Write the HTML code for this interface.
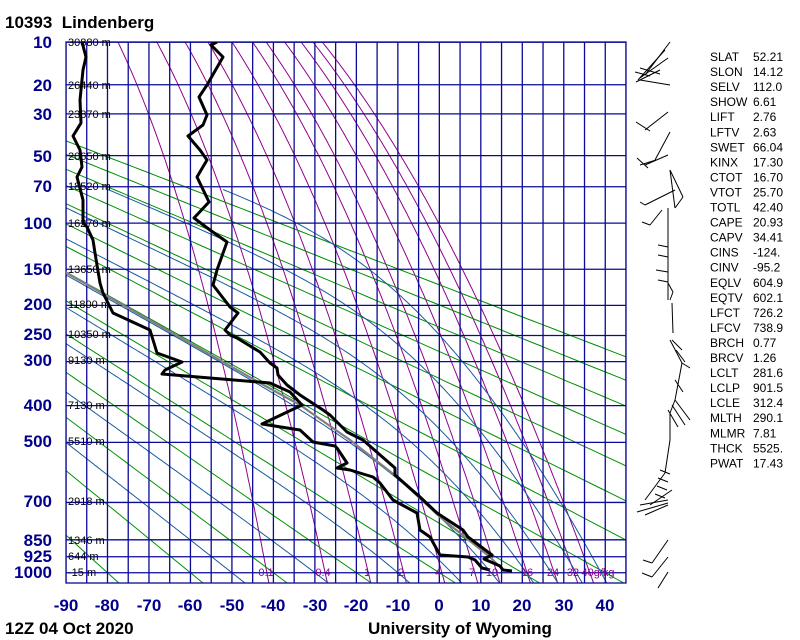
<!DOCTYPE html>
<html><head><meta charset="utf-8"><style>
html,body{margin:0;padding:0;background:#fff;width:800px;height:640px;overflow:hidden}
svg{display:block}
text{font-family:"Liberation Sans",sans-serif}
.pl{font-weight:bold;font-size:17px;fill:#00008b;text-anchor:end}
.xl{font-weight:bold;font-size:17px;fill:#00008b;text-anchor:middle}
.hl{font-size:11px;fill:#000}
.st{font-size:12px;fill:#000}
.mr{font-size:11px;fill:#900090;text-anchor:middle}
</style></head><body>
<svg id="s" width="800" height="640" xmlns="http://www.w3.org/2000/svg">
<defs><clipPath id="c"><rect x="66" y="42" width="560" height="541"/></clipPath></defs>
<g id="grid" clip-path="url(#c)"></g>
<rect x="66" y="42" width="560" height="541" fill="none" stroke="#0a0a96" stroke-width="1.3"/>
<g id="prof" clip-path="url(#c)"></g>
<text x="5" y="28" style="font-weight:bold;font-size:17px;white-space:pre">10393  Lindenberg</text>
<text x="5" y="634" style="font-weight:bold;font-size:17px">12Z 04 Oct 2020</text>
<text x="368" y="634" style="font-weight:bold;font-size:17px">University of Wyoming</text>
<g class="pl">
<text x="52" y="48">10</text><text x="52" y="91">20</text><text x="52" y="120">30</text><text x="52" y="162">50</text><text x="52" y="192">70</text><text x="52" y="229">100</text><text x="52" y="275">150</text><text x="52" y="310">200</text><text x="52" y="340">250</text><text x="52" y="366">300</text><text x="52" y="411">400</text><text x="52" y="447">500</text><text x="52" y="507">700</text><text x="52" y="546">850</text><text x="52" y="562">925</text><text x="52" y="578">1000</text>
</g>
<g class="xl">
<text x="66" y="611">-90</text><text x="107" y="611">-80</text><text x="149" y="611">-70</text><text x="190" y="611">-60</text><text x="232" y="611">-50</text><text x="273" y="611">-40</text><text x="315" y="611">-30</text><text x="356" y="611">-20</text><text x="398" y="611">-10</text><text x="439" y="611">0</text><text x="481" y="611">10</text><text x="522" y="611">20</text><text x="564" y="611">30</text><text x="605" y="611">40</text>
</g>
<g class="hl">
<text x="68" y="46">30880 m</text><text x="68" y="89">26440 m</text><text x="68" y="118">23870 m</text><text x="68" y="160">20650 m</text><text x="68" y="190">18520 m</text><text x="68" y="227">16270 m</text><text x="68" y="273">13650 m</text><text x="68" y="308">11800 m</text><text x="68" y="338">10350 m</text><text x="68" y="364">9130 m</text><text x="68" y="409">7130 m</text><text x="68" y="445">5510 m</text><text x="68" y="505">2918 m</text><text x="68" y="544">1346 m</text><text x="68" y="560">644 m</text><text x="68" y="576">-15 m</text>
</g>
<g class="mr">
<text x="266" y="576">0.1</text><text x="323" y="576">0.4</text><text x="367" y="576">1</text><text x="401" y="576">2</text><text x="438" y="576">4</text><text x="472" y="576">7</text><text x="492" y="576">10</text><text x="527" y="576">16</text><text x="553" y="576">24</text><text x="573" y="576">32</text><text x="598" y="576">40g/kg</text>
</g>
<g class="st" id="stats"></g>
<g id="wind" stroke="#000" stroke-width="1" fill="none"></g>
</svg>
<script>
var NS="http://www.w3.org/2000/svg";
function X(T){return 66+(T+90)*560/135;}
function Y(p){return -152+100.5*Math.pow(p,0.286);}
function el(par,tag,at){var e=document.createElementNS(NS,tag);for(var k in at)e.setAttribute(k,at[k]);par.appendChild(e);return e;}
var g=document.getElementById('grid');
function poly(par,pts,col,w){el(par,'polyline',{points:pts.map(function(q){return q[0].toFixed(1)+','+q[1].toFixed(1)}).join(' '),fill:'none',stroke:col,'stroke-width':w,'stroke-linejoin':'round'});}
// mixing ratio
[0.1,0.4,1,2,4,7,10,16,24,32,40].forEach(function(w){var pts=[];for(var p=1060;p>=10;p*=0.98){var e=w*p/(622+w);var l=Math.log(e/6.112);var Td=243.5*l/(17.67-l);pts.push([X(Td),Y(p)]);}
var e=w*10/(622+w),l=Math.log(e/6.112);pts.push([X(243.5*l/(17.67-l)),Y(10)]);poly(g,pts,'#900090',1);});
// dry adiabats
for(var th=-80;th<=180;th+=20){var TK=th+273.15,pts=[];for(var p=1060;p>=10;p*=0.97){pts.push([X(TK*Math.pow(p/1000,0.286)-273.15),Y(p)]);}poly(g,pts,'#009000',1);}
// moist adiabats
function dTdp(T,p){var Tc=T-273.15;var es=6.112*Math.exp(17.67*Tc/(Tc+243.5));var rs=0.622*es/(p-es);var Lv=2.5e6,Rd=287,cp=1004;return (Rd*T+Lv*rs)/p/(cp+Lv*Lv*rs*0.622/(Rd*T*T));}
[-50,-30,-10,3,12.5,21,27,33,39].forEach(function(tw){var T=tw+273.15,p=1000,up=[];
 while(p>70){up.push([X(T-273.15),Y(p)]);var h=-2;var k1=dTdp(T,p);var k2=dTdp(T+k1*h/2,p+h/2);T+=k2*h;p+=h;}
 T=tw+273.15;p=1000;var dn=[];while(p<1060){var h=2;var k1=dTdp(T,p);var k2=dTdp(T+k1*h/2,p+h/2);T+=k2*h;p+=h;dn.push([X(T-273.15),Y(p)]);}
 poly(g,dn.reverse().concat(up),'#1a5aa0',1);});
// isotherms
for(var i=0;i<=27;i++){var x=66+i*560/27;el(g,'line',{x1:x,y1:42,x2:x,y2:583,stroke:'#0a0a96','stroke-width':1.3});}
[10,20,30,50,70,100,150,200,250,300,400,500,700,850,925,1000].forEach(function(p){var y=Y(p);el(g,'line',{x1:66,y1:y,x2:626,y2:y,stroke:'#0a0a96','stroke-width':1.3});});
var pr=document.getElementById('prof');
poly(pr,[[65,272],[167,330],[260,383],[300,405],[350,440],[397,477],[440,517],[490,557],[503,570]],'#808080',2.2);
poly(pr,[[217,42],[211,45],[223,57],[207,85],[199,97],[207,115],[203,125],[188,136],[200,150],[207,160],[197,177],[209,202],[194,218],[210,230],[227,242],[217,270],[213,285],[230,307],[238,313],[225,330],[230,335],[237,338],[260,352],[270,363],[277,368],[278,375],[287,385],[300,395],[323,410],[330,415],[347,432],[363,440],[395,468],[395,475],[420,497],[437,513],[463,530],[468,537],[492,555],[484,559],[500,566],[503,570],[512,571]],'#000',3);
poly(pr,[[82,42],[86,57],[83,70],[80,100],[81,123],[73,136],[80,150],[82,167],[77,177],[83,200],[83,223],[87,227],[93,240],[95,253],[100,283],[103,293],[113,313],[150,330],[157,353],[182,362],[165,370],[162,374],[270,383],[290,392],[302,405],[262,424],[300,430],[313,442],[335,446],[337,448],[347,463],[337,468],[350,470],[373,477],[380,483],[393,500],[417,513],[420,530],[430,537],[440,555],[468,557],[475,560],[482,568],[490,570]],'#000',3);
var st=[["SLAT","52.21"],["SLON","14.12"],["SELV","112.0"],["SHOW","6.61"],["LIFT","2.76"],["LFTV","2.63"],["SWET","66.04"],["KINX","17.30"],["CTOT","16.70"],["VTOT","25.70"],["TOTL","42.40"],["CAPE","20.93"],["CAPV","34.41"],["CINS","-124."],["CINV","-95.2"],["EQLV","604.9"],["EQTV","602.1"],["LFCT","726.2"],["LFCV","738.9"],["BRCH","0.77"],["BRCV","1.26"],["LCLT","281.6"],["LCLP","901.5"],["LCLE","312.4"],["MLTH","290.1"],["MLMR","7.81"],["THCK","5525."],["PWAT","17.43"]];
var sg=document.getElementById('stats');
st.forEach(function(r,i){var y=61+i*15.05;el(sg,'text',{x:710,y:y}).textContent=r[0];el(sg,'text',{x:753,y:y}).textContent=r[1];});
var wg=document.getElementById('wind');
var L=[[670,42,645,75],[665,50,638,80],[668,58,640,78],[640,68,660,74],[635,72,650,76],[640,80,670,85],[660,70,636,82],
[668,112,645,130],[636,122,650,131],[670,132,655,160],[656,160,640,165],[637,158,648,168],[668,155,645,165],
[670,170,675,208],[675,208,683,197],[683,197,670,170],[675,190,645,205],[645,205,640,202],[662,210,650,225],[650,225,642,222],
[668,208,668,300],[658,245,668,247],[658,255,668,257],[656,270,668,272],[658,280,668,282],[668,283,673,292],[673,292,670,300],
[672,303,673,333],[670,340,682,363],[682,363,675,400],[675,400,670,413],[670,413,670,440],[670,440,665,473],[665,473,645,500],
[672,340,682,350],[676,350,685,362],[682,363,690,368],[675,380,683,392],[675,400,690,420],[668,410,678,427],[672,405,685,425],
[660,470,670,474],[658,478,668,482],[657,486,667,490],[655,494,665,498],[650,505,672,490],[640,505,668,500],[637,512,668,503],[645,515,668,505],
[668,540,652,563],[652,563,643,560],[668,557,652,577],[652,577,642,573],[668,572,658,588]];
L.forEach(function(l){el(wg,'line',{x1:l[0],y1:l[1],x2:l[2],y2:l[3]});});
</script>
</body></html>
